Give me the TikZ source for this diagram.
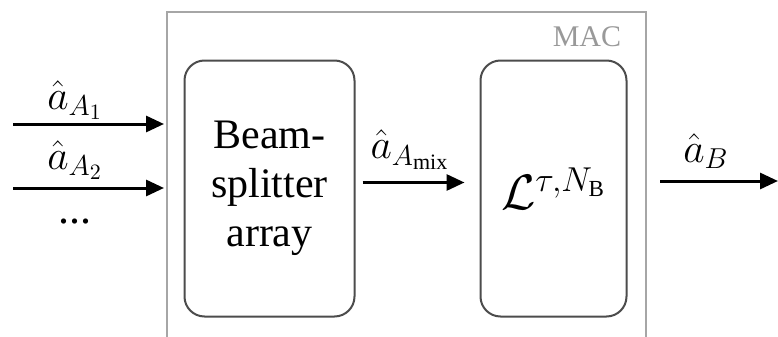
\documentclass[tikz,border=0pt]{standalone}
\usepackage{fontspec}
\setmainfont{Liberation Serif}
\usetikzlibrary{arrows.meta}
\tikzset{
blk/.style={draw=black!70,line width=1pt,rounded corners=10pt,align=center,font=\fontsize{21}{24.5}\selectfont,minimum height=128pt},
arr/.style={line width=1.5pt,-{Triangle[length=9pt,width=8pt]}},
lbl/.style={font=\fontsize{22}{24}\selectfont,inner sep=0pt}
}
\begin{document}
\begin{tikzpicture}[x=0.5pt,y=-0.5pt]
\useasboundingbox (0,0) rectangle (778,337);
\draw[black!35,line width=1pt] (167,337) -- (167,12) -- (646,12) -- (646,337);
\node[font=\fontsize{15}{17}\selectfont,text=black!40] (mac) at (587,37) {MAC};
\node[blk,minimum width=85pt] (bs) at (269.5,188.5) {Beam-\\splitter\\array};
\node[blk,minimum width=73pt,font=\fontsize{23}{26}\selectfont] (L) at (553.5,188.5) {$\mathcal{L}^{\tau,N_\mathrm{B}}$};
\coordinate (a1) at (13,124); \coordinate (b1) at (164,124);
\coordinate (a2) at (13,188); \coordinate (b2) at (164,188);
\coordinate (o1) at (660,181); \coordinate (o2) at (778,181);
\draw[arr] (a1) -- (b1);
\draw[arr] (a2) -- (b2);
\draw[arr,shorten <=3.5pt,shorten >=7.5pt] ([yshift=3pt]bs.east) -- ([yshift=3pt]L.west);
\draw[arr] (o1) -- (o2);
\node[lbl] (in1) at (75,100) {$\hat{a}_{A_1}$};
\node[lbl] (in2) at (75,160) {$\hat{a}_{A_2}$};
\node[lbl] (dots) at (75,222) {...};
\node[lbl] (mix) at (410,150) {$\hat{a}_{A_\mathrm{mix}}$};
\node[lbl] (out) at (706,151) {$\hat{a}_B$};
\end{tikzpicture}
\end{document}
